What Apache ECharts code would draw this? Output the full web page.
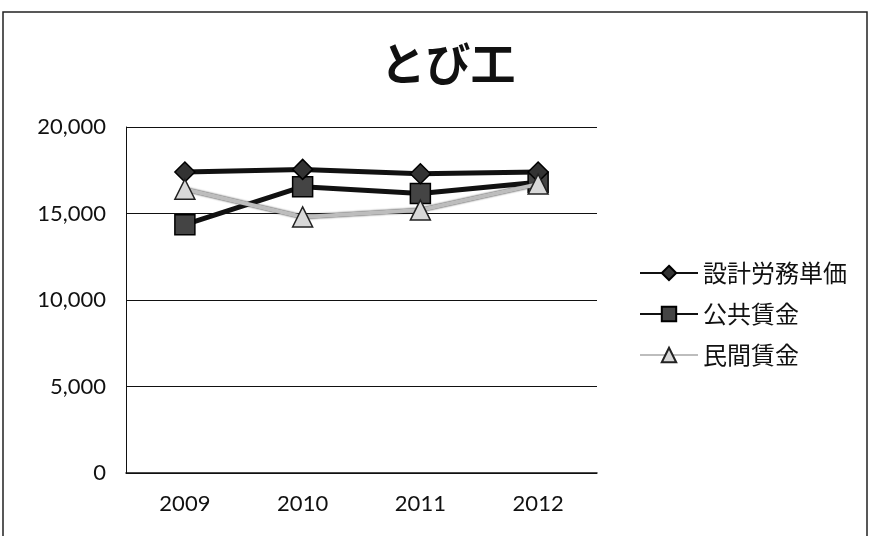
<!DOCTYPE html>
<html><head><meta charset="utf-8">
<script src="https://cdn.jsdelivr.net/npm/echarts@6/dist/echarts.min.js"></script>
<style>html,body{margin:0;padding:0;background:#fff}#c{width:870px;height:536px}</style>
</head><body><div id="c"></div>
<script>
const titleText = 'とび工';
const categories = ['2009', '2010', '2011', '2012'];
const seriesNames = ['設計労務単価', '公共賃金', '民間賃金'];
const sekkei = [17400, 17550, 17300, 17400];
const koukyou = [14350, 16550, 16150, 16800];
const minkan = [16400, 14800, 15200, 16700];
const yTicks = [0, 5000, 10000, 15000, 20000];

const chart = echarts.init(document.getElementById('c'));
const numFont = 'Lato, "Open Sans", sans-serif';
const jpFont = '"Noto Sans CJK JP", sans-serif';
chart.setOption({
  animation: false,
  backgroundColor: '#fff',
  title: {
    text: titleText, left: 443, top: 36, textAlign: 'center',
    textStyle: {fontFamily: jpFont, fontSize: 45, fontWeight: 'bold', color: '#111'}
  },
  graphic: [{
    type: 'rect', shape: {x: 3, y: 12, width: 864, height: 530},
    style: {fill: 'none', stroke: '#222', lineWidth: 1.5}, silent: true
  }],
  grid: {left: 126, right: 273, top: 127, bottom: 63},
  legend: {
    orient: 'vertical', left: 634, top: 256, itemWidth: 58, itemHeight: 18, itemGap: 17,
    textStyle: {fontFamily: jpFont, fontSize: 24, color: '#111'},
    data: seriesNames
  },
  xAxis: {
    type: 'category', data: categories, boundaryGap: true,
    axisLine: {lineStyle: {color: '#111', width: 1.5}},
    axisTick: {show: false},
    axisLabel: {fontFamily: numFont, fontSize: 22, color: '#111', margin: 20}
  },
  yAxis: {
    type: 'value', min: yTicks[0], max: yTicks[yTicks.length - 1], interval: 5000,
    axisLine: {show: true, lineStyle: {color: '#111', width: 1}},
    axisTick: {show: false},
    splitLine: {lineStyle: {color: '#111', width: 1}},
    axisLabel: {
      fontFamily: numFont, fontSize: 22, color: '#111', margin: 20,
      formatter: v => v.toLocaleString('en-US')
    }
  },
  series: [
    {
      name: seriesNames[0], type: 'line', data: sekkei, symbol: 'diamond', symbolSize: 20,
      lineStyle: {color: '#111', width: 5},
      itemStyle: {color: '#333', borderColor: '#000', borderWidth: 1.5}, z: 4
    },
    {
      name: seriesNames[1], type: 'line', data: koukyou, symbol: 'rect', symbolSize: 20,
      lineStyle: {color: '#111', width: 5},
      itemStyle: {color: '#444', borderColor: '#000', borderWidth: 1.5}, z: 3
    },
    {
      name: seriesNames[2], type: 'line', data: minkan, symbol: 'triangle', symbolSize: 20,
      lineStyle: {color: '#bdbdbd', width: 4, shadowColor: '#222', shadowBlur: 2},
      itemStyle: {color: '#d8d8d8', borderColor: '#222', borderWidth: 1.5}, z: 5
    }
  ]
});
</script></body></html>
